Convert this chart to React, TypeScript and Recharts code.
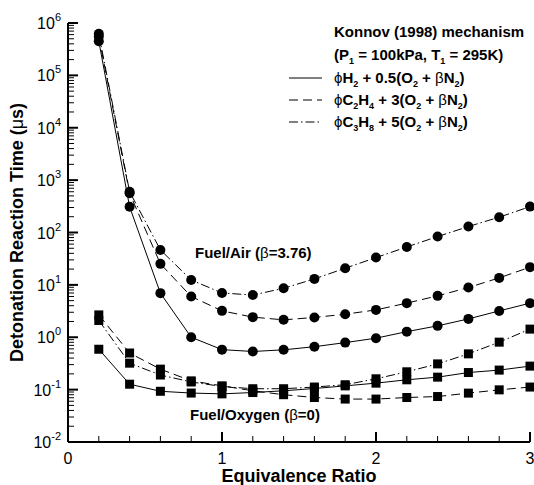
import { LineChart, Line, XAxis, YAxis } from 'recharts';

const PHI = [0.2, 0.4, 0.6, 0.8, 1.0, 1.2, 1.4, 1.6, 1.8, 2.0, 2.2, 2.4, 2.6, 2.8, 3.0];

// Fuel/Air (beta = 3.76), circles
const AIR_H2 = [4.5e5, 310, 6.95, 1.0, 0.58, 0.535, 0.575, 0.66, 0.79, 0.96, 1.28, 1.65, 2.24, 3.18, 4.48];
const AIR_C2H4 = [5.5e5, 560, 25.2, 6.0, 3.19, 2.42, 2.15, 2.39, 2.75, 3.33, 4.48, 6.17, 8.9, 13.6, 21.8];
const AIR_C3H8 = [6.2e5, 600, 46.5, 12.4, 7.0, 6.4, 8.6, 13.0, 20.8, 33.2, 53, 83.6, 130, 196, 312];

// Fuel/Oxygen (beta = 0), squares
const OX_H2 = [0.59, 0.127, 0.093, 0.086, 0.083, 0.088, 0.095, 0.105, 0.118, 0.133, 0.154, 0.173, 0.212, 0.236, 0.281];
const OX_C2H4 = [2.67, 0.5, 0.246, 0.147, 0.118, 0.095, 0.08, 0.0707, 0.066, 0.066, 0.0707, 0.0738, 0.0858, 0.099, 0.112];
const OX_C3H8 = [2.09, 0.32, 0.19, 0.14, 0.115, 0.104, 0.104, 0.112, 0.124, 0.161, 0.219, 0.31, 0.482, 0.806, 1.43];

const Y_EXPONENTS = [-2, -1, 0, 1, 2, 3, 4, 5, 6];

const W = 534;
const H = 485;
const PLOT_LEFT = 68;
const PLOT_RIGHT = 530;
const PLOT_TOP = 23;
const PLOT_BOTTOM = 442;
const FONT = 'Arial, "Liberation Sans", Helvetica, sans-serif';

const data = PHI.map((phi, i) => ({
  phi,
  airH2: AIR_H2[i],
  airC2H4: AIR_C2H4[i],
  airC3H8: AIR_C3H8[i],
  oxH2: OX_H2[i],
  oxC2H4: OX_C2H4[i],
  oxC3H8: OX_C3H8[i],
}));

// major + minor ticks
const xTicks: number[] = [];
for (let i = 0; i <= 15; i++) xTicks.push(Math.round(i * 2) / 10);
const yTicks: number[] = [];
Y_EXPONENTS.forEach((e) => {
  yTicks.push(Math.pow(10, e));
  if (e < 6) for (let m = 2; m <= 9; m++) yTicks.push(Number((m * Math.pow(10, e)).toPrecision(3)));
});

const isDecade = (v: number) => {
  const l = Math.log10(v);
  return Math.abs(l - Math.round(l)) < 1e-9;
};

const DASHED = '9 5';
const DASHDOT = '9 3 1.5 3';

function YTick(props: any) {
  const { y, payload } = props;
  const v = payload.value;
  const major = isDecade(v);
  const exp = Math.round(Math.log10(v));
  return (
    <g>
      <line x1={PLOT_LEFT} x2={PLOT_LEFT + (major ? 10 : 6)} y1={y} y2={y} stroke="#000" strokeWidth={major ? 2 : 1} />
      {major && (
        <text x={PLOT_LEFT - 7} y={y + 6} textAnchor="end" fontFamily={FONT} fontSize={16} fill="#000">
          10
          <tspan dy={-8} fontSize={11}>{exp}</tspan>
        </text>
      )}
    </g>
  );
}

function XTick(props: any) {
  const { x, payload } = props;
  const v = payload.value;
  const major = Math.abs(v - Math.round(v)) < 1e-9;
  return (
    <g>
      <line x1={x} x2={x} y1={PLOT_BOTTOM} y2={PLOT_BOTTOM - (major ? 10 : 6)} stroke="#000" strokeWidth={major ? 2 : 1} />
      {major && (
        <text x={x} y={PLOT_BOTTOM + 22} textAnchor="middle" fontFamily={FONT} fontSize={16} fill="#000">
          {v}
        </text>
      )}
    </g>
  );
}

function SquareDot(props: any) {
  const { cx, cy, index } = props;
  if (cx == null || cy == null) return <g key={index} />;
  return <rect key={index} x={cx - 4.5} y={cy - 4.5} width={9} height={9} fill="#000" />;
}

const circleDot = { r: 5, fill: '#000', stroke: '#000', strokeWidth: 0 };

function Formula({ fuel, coef }: { fuel: [string, string][]; coef: string }) {
  // fuel: pairs of [element, subscript]
  const parts: any[] = [<tspan key="phi" fontWeight="normal">ϕ</tspan>];
  fuel.forEach(([el, sub], i) => {
    parts.push(<tspan key={'e' + i} dy={i === 0 ? 0 : -4}>{el}</tspan>);
    parts.push(<tspan key={'s' + i} dy={4} fontSize={9}>{sub}</tspan>);
  });
  parts.push(<tspan key="c" dy={-4}>{` + ${coef}(O`}</tspan>);
  parts.push(<tspan key="o2" dy={4} fontSize={9}>2</tspan>);
  parts.push(<tspan key="o2r" dy={-4}>{' + '}</tspan>);
  parts.push(<tspan key="beta" fontWeight="normal">β</tspan>);
  parts.push(<tspan key="n">N</tspan>);
  parts.push(<tspan key="n2" dy={4} fontSize={9}>2</tspan>);
  parts.push(<tspan key="n2r" dy={-4}>)</tspan>);
  return <>{parts}</>;
}

const LEGEND = [
  { dash: undefined, fuel: [['H', '2']] as [string, string][], coef: '0.5' },
  { dash: DASHED, fuel: [['C', '2'], ['H', '4']] as [string, string][], coef: '3' },
  { dash: DASHDOT, fuel: [['C', '3'], ['H', '8']] as [string, string][], coef: '5' },
];

export default function App() {
  return (
    <div style={{ position: 'absolute', left: 0, top: 0, width: W, height: H, background: '#fff' }}>
      <LineChart
        width={W}
        height={H}
        data={data}
        margin={{ top: PLOT_TOP, right: W - PLOT_RIGHT, bottom: 0, left: 0 }}
      >
        <XAxis
          dataKey="phi"
          type="number"
          domain={[0, 3]}
          ticks={xTicks}
          interval={0}
          height={H - PLOT_BOTTOM}
          axisLine={{ stroke: '#000', strokeWidth: 2 }}
          tickLine={false}
          tick={<XTick />}
        />
        <YAxis
          type="number"
          scale="log"
          domain={[0.01, 1e6]}
          allowDataOverflow
          ticks={yTicks}
          interval={0}
          width={PLOT_LEFT}
          axisLine={{ stroke: '#000', strokeWidth: 2 }}
          tickLine={false}
          tick={<YTick />}
        />
        <Line dataKey="airH2" stroke="#000" strokeWidth={1} dot={circleDot} isAnimationActive={false} />
        <Line dataKey="airC2H4" stroke="#000" strokeWidth={1} strokeDasharray={DASHED} dot={circleDot} isAnimationActive={false} />
        <Line dataKey="airC3H8" stroke="#000" strokeWidth={1} strokeDasharray={DASHDOT} dot={circleDot} isAnimationActive={false} />
        <Line dataKey="oxH2" stroke="#000" strokeWidth={1} dot={<SquareDot />} isAnimationActive={false} />
        <Line dataKey="oxC2H4" stroke="#000" strokeWidth={1} strokeDasharray={DASHED} dot={<SquareDot />} isAnimationActive={false} />
        <Line dataKey="oxC3H8" stroke="#000" strokeWidth={1} strokeDasharray={DASHDOT} dot={<SquareDot />} isAnimationActive={false} />
      </LineChart>
      <svg
        width={W}
        height={H}
        style={{ position: 'absolute', left: 0, top: 0, pointerEvents: 'none' }}
        fontFamily={FONT}
        fill="#000"
      >
        <text
          transform={`translate(23, ${(PLOT_TOP + PLOT_BOTTOM) / 2}) rotate(-90)`}
          textAnchor="middle"
          fontSize={18}
          fontWeight="bold"
        >
          Detonation Reaction Time (<tspan fontWeight="normal">μ</tspan>s)
        </text>
        <text x={(PLOT_LEFT + PLOT_RIGHT) / 2} y={482} textAnchor="middle" fontSize={18} fontWeight="bold">
          Equivalence Ratio
        </text>

        <text x={334} y={37} fontSize={15} fontWeight="bold">Konnov (1998) mechanism</text>
        <text x={334} y={60} fontSize={15} fontWeight="bold">
          (P<tspan dy={4} fontSize={9}>1</tspan>
          <tspan dy={-4}> = 100kPa, T</tspan>
          <tspan dy={4} fontSize={9}>1</tspan>
          <tspan dy={-4}> = 295K)</tspan>
        </text>
        {LEGEND.map((l, i) => (
          <g key={i}>
            <line x1={289} x2={322} y1={78 + i * 22} y2={78 + i * 22} stroke="#000" strokeWidth={1} strokeDasharray={l.dash} />
            <text x={334} y={83 + i * 22} fontSize={15} fontWeight="bold">
              <Formula fuel={l.fuel} coef={l.coef} />
            </text>
          </g>
        ))}

        <text x={195} y={258} fontSize={15} fontWeight="bold">
          Fuel/Air (<tspan fontWeight="normal">β</tspan>=3.76)
        </text>
        <text x={190} y={420} fontSize={15} fontWeight="bold">
          Fuel/Oxygen (<tspan fontWeight="normal">β</tspan>=0)
        </text>
      </svg>
    </div>
  );
}
